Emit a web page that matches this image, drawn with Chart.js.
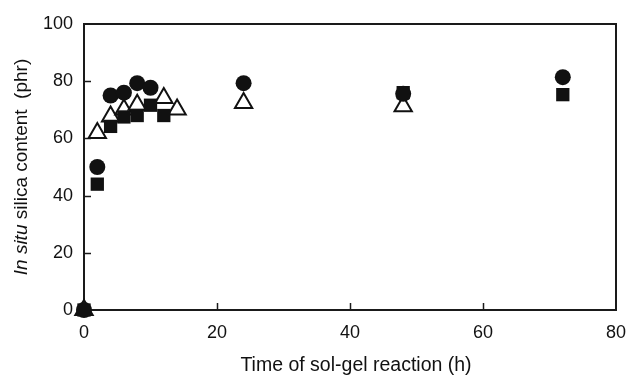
<!DOCTYPE html>
<html>
<head>
<meta charset="utf-8">
<script src="https://cdn.jsdelivr.net/npm/chart.js@4.4.0/dist/chart.umd.min.js"></script>
<style>
  html, body { margin: 0; padding: 0; background: #fff; }
  #wrap { width: 630px; height: 376px; }
</style>
</head>
<body>
<div id="wrap"><canvas id="silicaChart" width="630" height="376"></canvas></div>
<script>
// time of reaction (h) and silica content (phr) for each marker series
const circleTimes = [0, 2, 4, 6, 8, 10, 24, 48, 72];
const circleValues = [0, 50, 75, 76, 79.3, 77.7, 79.3, 75.6, 81.4];

const squareTimes = [0, 2, 4, 6, 8, 10, 12, 48, 72];
const squareValues = [0, 44, 64.2, 67.5, 68, 71.6, 68, 76, 75.3];

const triangleTimes = [0, 2, 4, 6, 8, 12, 14, 24, 48];
const triangleValues = [0, 61.9, 67.7, 70.1, 71.8, 74.1, 70.1, 72.4, 71.2];

const xTicks = [0, 20, 40, 60, 80];
const yTicks = [0, 20, 40, 60, 80, 100];

const FONT = "'Liberation Sans', Arial, Helvetica, sans-serif";
const toPoints = (xs, ys) => xs.map((x, i) => ({ x, y: ys[i] }));

// frame box + inward ticks, drawn under the markers
const framePlugin = {
  id: "frame",
  beforeDatasetsDraw(chart) {
    const { ctx, chartArea: a, scales } = chart;
    ctx.save();
    ctx.strokeStyle = "#1a1a1a";
    ctx.lineWidth = 1.5;
    yTicks.slice(1, -1).forEach(v => {
      const y = Math.round(scales.y.getPixelForValue(v)) + 0.5;
      ctx.beginPath();
      ctx.moveTo(a.left, y);
      ctx.lineTo(a.left + 7, y);
      ctx.stroke();
    });
    xTicks.slice(1, -1).forEach(v => {
      const x = Math.round(scales.x.getPixelForValue(v)) + 0.5;
      ctx.beginPath();
      ctx.moveTo(x, a.bottom);
      ctx.lineTo(x, a.bottom - 7);
      ctx.stroke();
    });
    ctx.lineWidth = 2;
    ctx.strokeRect(a.left, a.top, a.right - a.left, a.bottom - a.top);
    ctx.restore();
  },
  afterDraw(chart) {
    const { ctx } = chart;
    ctx.save();
    ctx.fillStyle = "#111";
    // x axis title
    ctx.font = "19.5px " + FONT;
    ctx.textAlign = "center";
    ctx.textBaseline = "middle";
    ctx.fillText("Time of sol-gel reaction (h)", 356, 366);
    // y axis title, "In situ" in italics
    const partA = "In situ";
    const partB = " silica content  (phr)";
    ctx.translate(22, 167);
    ctx.rotate(-Math.PI / 2);
    ctx.textAlign = "left";
    ctx.font = "italic 19px " + FONT;
    const wA = ctx.measureText(partA).width;
    ctx.font = "19px " + FONT;
    const wB = ctx.measureText(partB).width;
    const start = -(wA + wB) / 2;
    ctx.font = "italic 19px " + FONT;
    ctx.fillText(partA, start, 0);
    ctx.font = "19px " + FONT;
    ctx.fillText(partB, start + wA, 0);
    ctx.restore();
  }
};

const ctx = document.getElementById("silicaChart").getContext("2d");

new Chart(ctx, {
  type: "scatter",
  data: {
    datasets: [
      {
        label: "circle",
        data: toPoints(circleTimes, circleValues),
        pointStyle: "circle",
        pointRadius: 8,
        backgroundColor: "#111",
        borderColor: "#111",
        borderWidth: 0,
        order: 1
      },
      {
        label: "square",
        data: toPoints(squareTimes, squareValues),
        pointStyle: "rect",
        pointRadius: 9.4,
        backgroundColor: "#111",
        borderColor: "#111",
        borderWidth: 0,
        order: 2
      },
      {
        label: "triangle",
        data: toPoints(triangleTimes, triangleValues),
        pointStyle: "triangle",
        pointRadius: 10,
        backgroundColor: "#fff",
        borderColor: "#111",
        borderWidth: 2,
        order: 3
      }
    ]
  },
  options: {
    responsive: false,
    animation: false,
    clip: false,
    layout: { padding: { top: 24, right: 0, left: 0, bottom: 0 } },
    plugins: {
      legend: { display: false },
      tooltip: { enabled: false }
    },
    scales: {
      x: {
        type: "linear",
        min: 0,
        max: 80,
        afterFit: s => { s.height = 66; s.paddingRight = 14; s.paddingLeft = 0; },
        afterBuildTicks: s => { s.ticks = xTicks.map(v => ({ value: v })); },
        grid: { display: false, drawTicks: false },
        border: { display: false },
        ticks: { padding: 12, color: "#111", font: { family: FONT, size: 18 } }
      },
      y: {
        type: "linear",
        min: 0,
        max: 100,
        afterFit: s => { s.width = 84; },
        afterBuildTicks: s => { s.ticks = yTicks.map(v => ({ value: v })); },
        grid: { display: false, drawTicks: false },
        border: { display: false },
        ticks: { padding: 11, color: "#111", font: { family: FONT, size: 18 } }
      }
    }
  },
  plugins: [framePlugin]
});
</script>
</body>
</html>
